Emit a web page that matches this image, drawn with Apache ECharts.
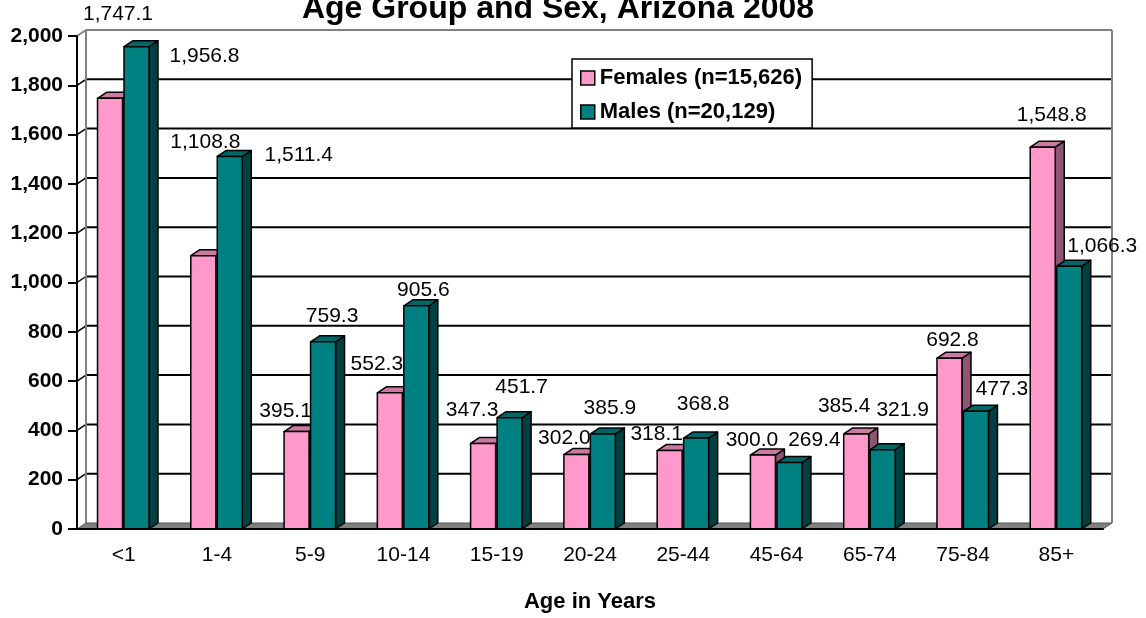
<!DOCTYPE html>
<html>
<head>
<meta charset="utf-8">
<script src="https://cdn.jsdelivr.net/npm/echarts@6/dist/echarts.min.js"></script>
<style>
  html, body { margin: 0; padding: 0; background: #fff; }
  #chart { width: 1146px; height: 618px; }
</style>
</head>
<body>
<div id="chart"></div>
<script>
const ageGroups = ['<1', '1-4', '5-9', '10-14', '15-19', '20-24', '25-44', '45-64', '65-74', '75-84', '85+'];
const females = [1747.1, 1108.8, 395.1, 552.3, 347.3, 302.0, 318.1, 300.0, 385.4, 692.8, 1548.8];
const males = [1956.8, 1511.4, 759.3, 905.6, 451.7, 385.9, 368.8, 269.4, 321.9, 477.3, 1066.3];
const yTicks = [0, 200, 400, 600, 800, 1000, 1200, 1400, 1600, 1800, 2000];
const seriesNames = ['Females (n=15,626)', 'Males (n=20,129)'];

// where Excel dropped each value label, relative to the bar's front top edge
const femaleLabelShift = [[8, -84], [2, -113], [-11, -20], [-13, -29], [-11, -33], [-12, -16], [-13, -16], [-11, -15], [-12, -28], [3, -18], [9, -32]];
const maleLabelShift = [[68, 10], [69, -1], [9, -26], [7, -16], [12, -30], [7, -26], [7, -34], [25, -22], [20, -39], [26, -22], [33, -20]];

const FONT = '"Liberation Sans", Arial, sans-serif';
const DX = 9, DY = -6; // 3d depth offset

const pink = { front: '#FF99CC', top: '#CC7AA3', side: '#8F5673' };
const teal = { front: '#008080', top: '#006666', side: '#004040' };

const fmt = v => v.toLocaleString('en-US', { minimumFractionDigits: 1, maximumFractionDigits: 1 });

function bar3d(slot, colors, shifts) {
  return function (params, api) {
    const i = api.value(0);
    const v = api.value(1);
    const base = api.coord([i, 0]);
    const top = api.coord([i, v]);
    const bw = api.size([1, 0])[0];
    const w = bw * 0.268;
    const x0 = base[0] - bw / 2 + bw * slot;
    const x1 = x0 + w;
    const yb = base[1], yt = top[1];
    const line = { stroke: '#000', lineWidth: 1.5, lineJoin: 'round' };
    const s = shifts[params.dataIndex];
    return {
      type: 'group',
      children: [
        { type: 'polygon', shape: { points: [[x1, yt], [x1 + DX, yt + DY], [x1 + DX, yb + DY], [x1, yb]] },
          style: Object.assign({ fill: colors.side }, line) },
        { type: 'polygon', shape: { points: [[x0, yt], [x1, yt], [x1 + DX, yt + DY], [x0 + DX, yt + DY]] },
          style: Object.assign({ fill: colors.top }, line) },
        { type: 'rect', shape: { x: x0, y: yt, width: w, height: yb - yt },
          style: Object.assign({ fill: colors.front }, line) },
        { type: 'text', x: x0 + w / 2 + s[0], y: yt + s[1],
          style: { text: fmt(v), fill: '#000', fontSize: 21, fontFamily: FONT,
                   align: 'center', verticalAlign: 'middle' } }
      ]
    };
  };
}

// back wall, side wall and floor, built from the value axis ticks
function wall(params, api) {
  const cs = params.coordSys;
  const v = api.value(1);
  const y = api.coord([0, v])[1];
  const y0 = api.coord([0, 0])[1];
  const xl = cs.x, xr = cs.x + cs.width;
  const isTop = v === yTicks[yTicks.length - 1];
  const col = isTop ? '#808080' : '#000';
  const children = [];
  if (v === 0) {
    children.push({ type: 'polygon',
      shape: { points: [[xl, y], [xr, y], [xr + DX, y + DY], [xl + DX, y + DY]] },
      style: { fill: '#808080', stroke: '#555', lineWidth: 1 } });
  } else {
    children.push({ type: 'line', shape: { x1: xl + DX, y1: y + DY, x2: xr + DX, y2: y + DY },
      style: { stroke: col, lineWidth: 2 } });
    children.push({ type: 'line', shape: { x1: xl, y1: y, x2: xl + DX, y2: y + DY },
      style: { stroke: col, lineWidth: isTop ? 2 : 1.5 } });
  }
  if (isTop) {
    children.push({ type: 'line', shape: { x1: xl + DX, y1: y + DY, x2: xl + DX, y2: y0 + DY },
      style: { stroke: '#808080', lineWidth: 2 } });
    children.push({ type: 'line', shape: { x1: xr + DX, y1: y + DY, x2: xr + DX, y2: y0 + DY },
      style: { stroke: '#808080', lineWidth: 2 } });
  }
  return { type: 'group', children };
}

const chart = echarts.init(document.getElementById('chart'));

const option = {
  animation: false,
  backgroundColor: '#fff',
  graphic: [
    { type: 'text', x: 558, y: 9, z: 10,
      style: { text: 'Age Group and Sex, Arizona 2008', fill: '#000', fontSize: 32, fontWeight: 'bold',
               fontFamily: FONT, align: 'center', verticalAlign: 'middle' } }
  ],
  legend: {
    data: seriesNames,
    orient: 'vertical',
    left: 572,
    top: 59,
    padding: [8, 10, 5, 8],
    itemGap: 12,
    itemWidth: 14,
    itemHeight: 14,
    icon: 'rect',
    backgroundColor: '#fff',
    borderColor: '#000',
    borderWidth: 1.5,
    itemStyle: { borderColor: '#000', borderWidth: 1.5 },
    textStyle: { fontFamily: FONT, fontWeight: 'bold', fontSize: 22, color: '#000' }
  },
  grid: { left: 77, right: 43, top: 36, bottom: 87 },
  xAxis: {
    type: 'category',
    data: ageGroups,
    z: 5,
    axisLine: { lineStyle: { color: '#000', width: 2 } },
    axisTick: { length: 9, lineStyle: { color: '#000', width: 2 } },
    axisLabel: { margin: 16, interval: 0, fontFamily: FONT, fontSize: 21, color: '#000' },
    name: 'Age in Years',
    nameLocation: 'middle',
    nameGap: 62,
    nameTextStyle: { fontFamily: FONT, fontWeight: 'bold', fontSize: 22, color: '#000' }
  },
  yAxis: {
    type: 'value',
    min: 0,
    max: 2000,
    interval: 200,
    z: 5,
    axisLine: { show: true, lineStyle: { color: '#000', width: 2 } },
    axisTick: { show: true, length: 9, lineStyle: { color: '#000', width: 2 } },
    splitLine: { show: false },
    axisLabel: { margin: 14, fontFamily: FONT, fontWeight: 'bold', fontSize: 21, color: '#000',
                 formatter: v => v.toLocaleString('en-US') }
  },
  series: [
    { type: 'custom', name: 'wall', z: 1, silent: true,
      data: yTicks.map(v => [0, v]), renderItem: wall },
    { type: 'custom', name: seriesNames[0], z: 2,
      itemStyle: { color: pink.front, borderColor: '#000', borderWidth: 1.5 },
      data: females.map((v, i) => [i, v]), renderItem: bar3d(0.22, pink, femaleLabelShift) },
    { type: 'custom', name: seriesNames[1], z: 2,
      itemStyle: { color: teal.front, borderColor: '#000', borderWidth: 1.5 },
      data: males.map((v, i) => [i, v]), renderItem: bar3d(0.504, teal, maleLabelShift) }
  ]
};

chart.setOption(option);
window.addEventListener('resize', () => chart.resize());
</script>
</body>
</html>
